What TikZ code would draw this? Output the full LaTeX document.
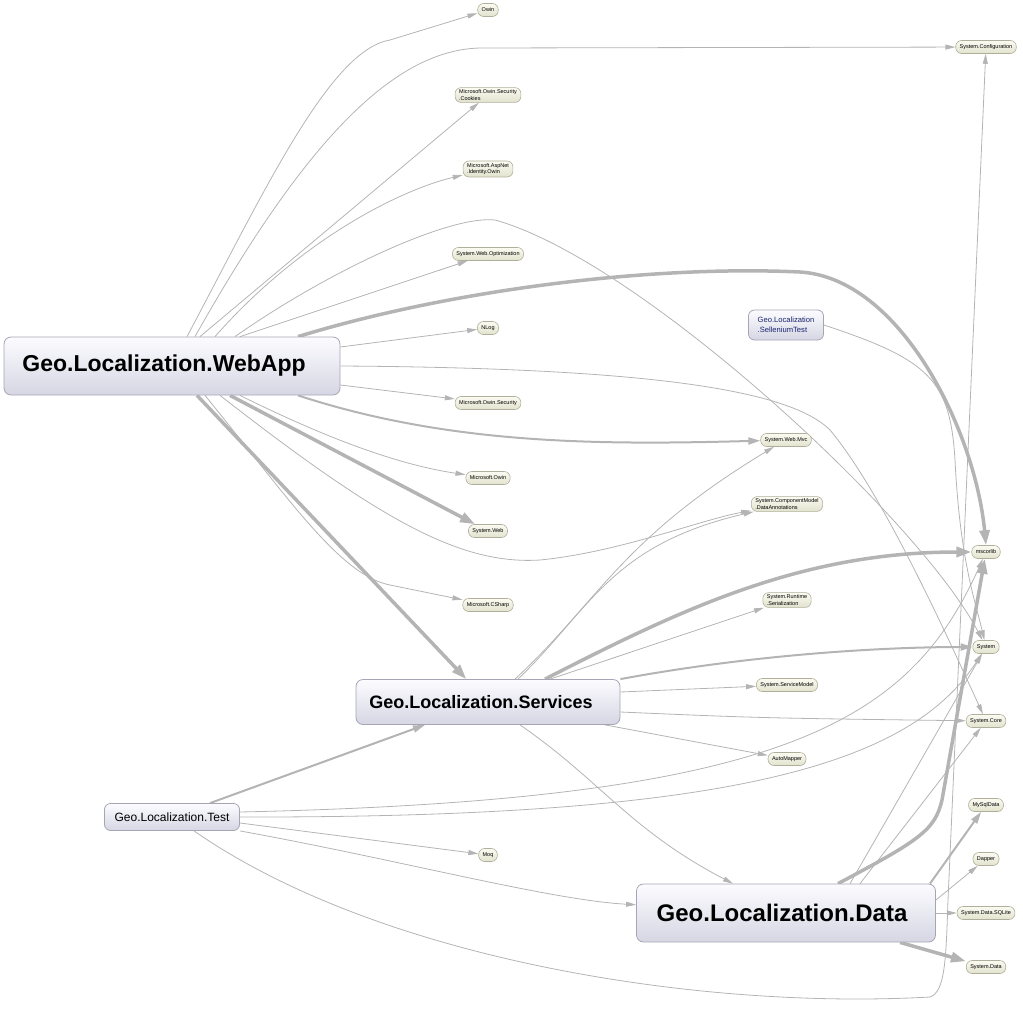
\documentclass[tikz,border=0pt]{standalone}
\usepackage{fontspec}
\setmainfont{Liberation Sans}
\usetikzlibrary{arrows.meta}
\definecolor{edgec}{RGB}{180,180,180}
\definecolor{bigtop}{RGB}{252,252,255}
\definecolor{bigbot}{RGB}{214,214,228}
\definecolor{bigdraw}{RGB}{165,165,180}
\definecolor{smtop}{RGB}{251,251,242}
\definecolor{smbot}{RGB}{226,226,206}
\definecolor{smdraw}{RGB}{175,175,155}
\definecolor{seltext}{RGB}{25,35,110}
\pgfdeclarelayer{bg}
\pgfsetlayers{bg,main}
\tikzset{
  bignode/.style={draw=bigdraw, top color=bigtop, bottom color=bigbot, rounded corners=7pt, line width=0.8pt, inner sep=0pt},
  smallnode/.style={draw=smdraw, top color=smtop, bottom color=smbot, rounded corners=6pt, line width=0.6pt, font=\fontsize{5.5}{6.8}\selectfont, inner xsep=4pt, inner ysep=2pt, minimum height=13pt, align=left},
  edge/.style={draw=edgec, line width=0.8pt, -{Triangle[length=10pt,width=5pt]}},
  medge/.style={draw=edgec, line width=2pt, -{Triangle[length=12pt,width=7pt]}},
  tedge/.style={draw=edgec, line width=3.5pt, -{Triangle[length=15pt,width=10pt]}}
}
\begin{document}
\begin{tikzpicture}[x=1pt,y=-1pt]
\useasboundingbox (0,0) rectangle (1023,1012);
% main nodes
\node[bignode, minimum width=336pt, minimum height=58pt, font=\fontsize{23}{26}\selectfont\bfseries] (webapp) at (172,366) {\raisebox{-3pt}{Geo.Localization.WebApp}\kern16pt};
\node[bignode, minimum width=264pt, minimum height=45pt, font=\fontsize{18}{21}\selectfont\bfseries] (services) at (488,702) {Geo.Localization.Services\kern14pt};
\node[bignode, minimum width=299pt, minimum height=58pt, font=\fontsize{24}{27}\selectfont\bfseries] (data) at (786,913) {Geo.Localization.Data\kern8pt};
\node[bignode, rounded corners=6pt, minimum width=135pt, minimum height=27pt, font=\fontsize{12}{14}\selectfont] (test) at (172,817) {Geo.Localization.Test};
\node[bignode, rounded corners=6pt, minimum width=75pt, minimum height=30pt, align=left, text=seltext, font=\fontsize{7.6}{10}\selectfont] (selen) at (786,325) {Geo.Localization\\.SelleniumTest};
% small nodes
\node[smallnode] (owin) at (488,10) {Owin};
\node[smallnode] (sysconf) at (986,47) {System.Configuration};
\node[smallnode] (cookies) at (488,95) {Microsoft.Owin.Security\\.Cookies};
\node[smallnode] (identity) at (488,169) {Microsoft.AspNet\\.Identity.Owin};
\node[smallnode] (weboptim) at (488,254) {System.Web.Optimization};
\node[smallnode] (nlog) at (488,328) {NLog};
\node[smallnode] (mosec) at (488,403) {Microsoft.Owin.Security};
\node[smallnode] (msowin) at (488,478) {Microsoft.Owin};
\node[smallnode] (sysweb) at (488,531) {System.Web};
\node[smallnode] (csharp) at (488,605) {Microsoft.CSharp};
\node[smallnode] (mvc) at (786,440) {System.Web.Mvc};
\node[smallnode] (dataann) at (787,504) {System.ComponentModel\\.DataAnnotations};
\node[smallnode] (serial) at (787,600) {System.Runtime\\.Serialization};
\node[smallnode] (svcmodel) at (787,685) {System.ServiceModel};
\node[smallnode] (automapper) at (787,759) {AutoMapper};
\node[smallnode] (moq) at (488,855) {Moq};
\node[smallnode] (mscorlib) at (986,552) {mscorlib};
\node[smallnode] (system) at (986,647) {System};
\node[smallnode] (syscore) at (986,721) {System.Core};
\node[smallnode] (mysql) at (986,805) {MySqlData};
\node[smallnode] (dapper) at (986,859) {Dapper};
\node[smallnode] (sqlite) at (986,913) {System.Data.SQLite};
\node[smallnode] (sysdata) at (986,967) {System.Data};
\begin{pgfonlayer}{bg}
% WebApp
\draw[edge] ([xshift=15pt]webapp.north) .. controls (265,190) and (330,50) .. (390,40) -- (owin);
\draw[edge] ([xshift=23pt]webapp.north) .. controls (300,150) and (390,50) .. (480,48) -- (sysconf);
\draw[edge] ([xshift=28pt]webapp.north) -- (cookies);
\draw[edge] ([xshift=43pt]webapp.north) .. controls (300,240) and (400,190) .. (identity);
\draw[edge] ([xshift=63pt]webapp.north) .. controls (330,270) and (450,215) .. (495,220) .. controls (640,260) and (920,520) .. (system);
\draw[edge] ([xshift=68pt]webapp.north) -- (weboptim);
\draw[tedge] ([xshift=126pt]webapp.north) .. controls (450,290) and (650,265) .. (800,272) .. controls (900,278) and (975,430) .. (mscorlib.north);
\draw[edge] ([yshift=19pt]webapp.east) -- (nlog);
\draw[edge] (webapp.east) .. controls (650,368) and (790,390) .. (830,430) .. controls (880,490) and (940,620) .. (syscore);
\draw[edge] ([yshift=-19pt]webapp.east) -- (mosec);
\draw[medge] ([xshift=126pt]webapp.south) .. controls (450,445) and (600,445) .. (mvc);
\draw[edge] ([xshift=68pt]webapp.south) .. controls (330,440) and (400,465) .. (msowin);
\draw[tedge] ([xshift=58pt]webapp.south) -- (sysweb);
\draw[edge] ([xshift=48pt]webapp.south) .. controls (380,520) and (460,565) .. (540,560) .. controls (620,552) and (700,520) .. (dataann);
\draw[edge] ([xshift=33pt]webapp.south) .. controls (290,500) and (340,575) .. (390,585) -- (csharp);
\draw[tedge] ([xshift=25pt]webapp.south) -- (services);
% Services
\draw[edge] ([xshift=27pt]services.north) .. controls (600,600) and (620,540) .. ([xshift=-12pt]mvc.south);
\draw[edge] ([xshift=30pt]services.north) .. controls (590,610) and (610,545) .. (dataann);
\draw[tedge] ([xshift=57pt]services.north) .. controls (680,610) and (800,552) .. (mscorlib);
\draw[edge] ([xshift=62pt]services.north) -- (serial);
\draw[medge] (services.north east) .. controls (750,655) and (880,647) .. (system);
\draw[edge] ([yshift=10pt]services.east) -- (svcmodel);
\draw[edge] ([yshift=-10pt]services.east) .. controls (760,718) .. (syscore);
\draw[edge] ([xshift=117pt]services.south) -- (automapper);
\draw[edge] ([xshift=32pt]services.south) .. controls (600,780) and (630,830) .. ([xshift=-53pt]data.north);
% Test
\draw[medge] ([xshift=38pt]test.north) -- ([xshift=-63pt]services.south);
\draw[edge] ([yshift=5pt]test.east) .. controls (790,800) and (910,720) .. (mscorlib);
\draw[edge] (test.east) .. controls (730,818) and (910,765) .. (system);
\draw[edge] ([yshift=-6pt]test.east) -- (moq);
\draw[edge] (test.south east) .. controls (400,860) and (550,900) .. (data);
\draw[edge] ([xshift=22pt]test.south) .. controls (380,960) and (700,1010) .. (930,997) .. controls (945,992) and (946,960) .. (948,900) -- (sysconf);
% Data
\draw[tedge] ([xshift=52pt]data.north) .. controls (920,840) and (935,830) .. (942,800) -- (mscorlib);
\draw[edge] ([xshift=64pt]data.north) -- (system);
\draw[edge] ([xshift=74pt]data.north) -- (syscore);
\draw[medge] ([xshift=144pt]data.north) -- (mysql);
\draw[edge] ([yshift=13pt]data.east) -- (dapper);
\draw[edge] (data.east) -- (sqlite);
\draw[tedge] ([xshift=114pt]data.south) -- (sysdata);
% SelleniumTest
\draw[edge] (selen.east) .. controls (930,360) and (950,380) .. (955,460) .. controls (960,560) and (975,600) .. (system);
\end{pgfonlayer}
\end{tikzpicture}
\end{document}
